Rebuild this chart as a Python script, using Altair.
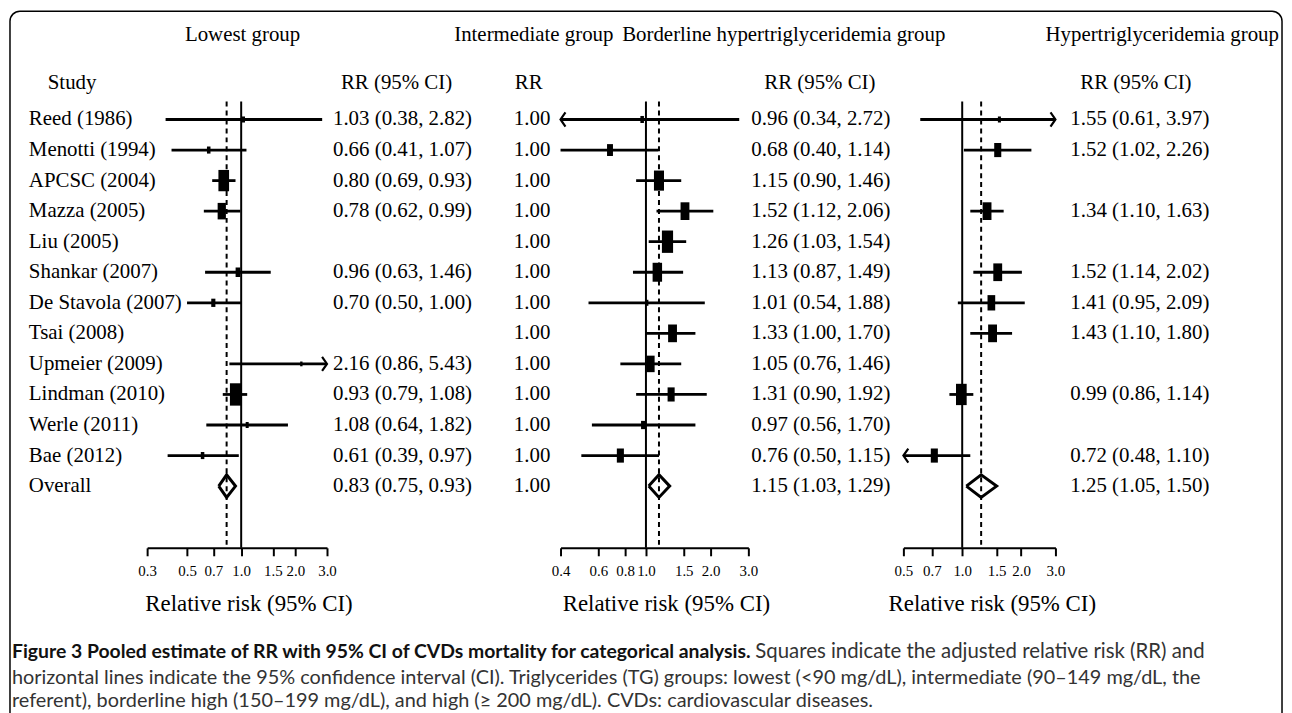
import altair as alt
import pandas as pd

# ---------------- data ----------------
studies = ["Reed (1986)", "Menotti (1994)", "APCSC (2004)", "Mazza (2005)", "Liu (2005)",
           "Shankar (2007)", "De Stavola (2007)", "Tsai (2008)", "Upmeier (2009)",
           "Lindman (2010)", "Werle (2011)", "Bae (2012)", "Overall"]

low_rr = [1.03, 0.66, 0.80, 0.78, None, 0.96, 0.70, None, 2.16, 0.93, 1.08, 0.61]
low_lo = [0.38, 0.41, 0.69, 0.62, None, 0.63, 0.50, None, 0.86, 0.79, 0.64, 0.39]
low_hi = [2.82, 1.07, 0.93, 0.99, None, 1.46, 1.00, None, 5.43, 1.08, 1.82, 0.97]
low_w = [8, 11, 100, 60, None, 20, 15, None, 5, 110, 8, 11]
low_pool = [0.83, 0.75, 0.93]

inter_rr = [1.00] * 13

bord_rr = [0.96, 0.68, 1.15, 1.52, 1.26, 1.13, 1.01, 1.33, 1.05, 1.31, 0.97, 0.76]
bord_lo = [0.34, 0.40, 0.90, 1.12, 1.03, 0.87, 0.54, 1.00, 0.76, 0.90, 0.56, 0.50]
bord_hi = [2.72, 1.14, 1.46, 2.06, 1.54, 1.49, 1.88, 1.70, 1.46, 1.92, 1.70, 1.15]
bord_w = [11, 31, 89, 69, 110, 79, 8, 69, 60, 44, 15, 44]
bord_pool = [1.15, 1.03, 1.29]

hyp_rr = [1.55, 1.52, None, 1.34, None, 1.52, 1.41, 1.43, None, 0.99, None, 0.72]
hyp_lo = [0.61, 1.02, None, 1.10, None, 1.14, 0.95, 1.10, None, 0.86, None, 0.48]
hyp_hi = [3.97, 2.26, None, 1.63, None, 2.02, 2.09, 1.80, None, 1.14, None, 1.10]
hyp_w = [8, 44, None, 69, None, 69, 52, 69, None, 100, None, 44]
hyp_pool = [1.25, 1.05, 1.50]

low_ticks = [0.3, 0.5, 0.7, 1.0, 1.5, 2.0, 3.0]
bord_ticks = [0.4, 0.6, 0.8, 1.0, 1.5, 2.0, 3.0]
hyp_ticks = [0.5, 0.7, 1.0, 1.5, 2.0, 3.0]

caption_bold = "Figure 3 Pooled estimate of RR with 95% CI of CVDs mortality for categorical analysis."
caption_l1 = "Squares indicate the adjusted relative risk (RR) and"
caption_l2 = ("horizontal lines indicate the 95% confidence interval (CI). Triglycerides (TG) groups: "
              "lowest (<90 mg/dL), intermediate (90\u2013149 mg/dL, the")
caption_l3 = "referent), borderline high (150\u2013199 mg/dL), and high (\u2265 200 mg/dL). CVDs: cardiovascular diseases."

# ---------------- styling ----------------
SERIF = "Liberation Serif"
FS = 21
YS = alt.Scale(domain=[-0.585, 14.02], reverse=True, nice=False, zero=False)
BOX = "M-0.5,-1L0.5,-1L0.5,1L-0.5,1Z"
RARROW = "M-0.7,-1L0,0L-0.7,1"
LARROW = "M0.7,-1L0,0L0.7,1"
OVERALL_ROW = 12
DIAMOND_H = 0.37


def fmt(r, l, h):
    return f"{r:.2f} ({l:.2f}, {h:.2f})"


def text_at(label, x, y, size=FS, font=SERIF, weight="normal", color="black", align="left"):
    return alt.Chart(pd.DataFrame({"t": [label]})).mark_text(
        align=align, baseline="middle", font=font, fontSize=size, fontWeight=weight, color=color
    ).encode(x=alt.value(x), y=alt.value(y), text="t:N")


def rr_column(rr, lo, hi, pool, x):
    labels, rows = [], []
    for i in range(12):
        if rr[i] is not None:
            labels.append(fmt(rr[i], lo[i], hi[i]))
            rows.append(i)
    labels.append(fmt(*pool))
    rows.append(OVERALL_ROW)
    df = pd.DataFrame({"row": rows, "label": labels})
    return alt.Chart(df).mark_text(align="left", baseline="middle", font=SERIF, fontSize=FS,
                                   color="black").encode(
        x=alt.value(x), y=alt.Y("row:Q", scale=YS, axis=None), text="label:N")


def panel(rr, lo, hi, w, pool, ticks, rng, title_x):
    dmin, dmax = ticks[0], ticks[-1]
    df = pd.DataFrame({"row": list(range(12)), "rr": rr, "lo": lo, "hi": hi, "w": w}).dropna()
    df["lo_c"] = df["lo"].clip(lower=dmin)
    df["hi_c"] = df["hi"].clip(upper=dmax)

    def xs():
        return alt.Scale(type="log", domain=[dmin, dmax], range=rng, nice=False, zero=False)

    axis = alt.Axis(values=ticks, format=".1f", orient="bottom", grid=False,
                    domainColor="black", domainWidth=2, tickColor="black", tickWidth=2, tickSize=8,
                    labelFont=SERIF, labelFontSize=15, labelColor="black", labelPadding=8,
                    labelOverlap=False, labelFlush=False,
                    title="Relative risk (95% CI)", titleFont=SERIF, titleFontSize=23,
                    titleFontWeight="normal", titleColor="black", titlePadding=14, titleX=title_x)
    base = alt.Chart(df)
    ci = base.mark_rule(color="black", strokeWidth=2.8).encode(
        x=alt.X("lo_c:Q", scale=xs(), axis=axis), x2="hi_c:Q",
        y=alt.Y("row:Q", scale=YS, axis=None))
    box = base.mark_point(shape=BOX, filled=True, color="black", opacity=1).encode(
        x=alt.X("rr:Q", scale=xs(), axis=None), y=alt.Y("row:Q", scale=YS, axis=None),
        size=alt.Size("w:Q", scale=alt.Scale(domain=[0, 100], range=[0, 460]), legend=None))
    out = [ci, box]
    rdf = df[df["hi"] > dmax]
    if len(rdf):
        out.append(alt.Chart(rdf).mark_point(
            shape=RARROW, filled=False, color="black", strokeWidth=2.2, size=200, opacity=1).encode(
            x=alt.X("hi_c:Q", scale=xs(), axis=None), y=alt.Y("row:Q", scale=YS, axis=None)))
    ldf = df[df["lo"] < dmin]
    if len(ldf):
        out.append(alt.Chart(ldf).mark_point(
            shape=LARROW, filled=False, color="black", strokeWidth=2.2, size=200, opacity=1).encode(
            x=alt.X("lo_c:Q", scale=xs(), axis=None), y=alt.Y("row:Q", scale=YS, axis=None)))
    out.append(alt.Chart(pd.DataFrame({"v": [1.0]})).mark_rule(color="black", strokeWidth=2).encode(
        x=alt.X("v:Q", scale=xs(), axis=None)))
    out.append(alt.Chart(pd.DataFrame({"v": [pool[0]]})).mark_rule(
        color="black", strokeWidth=2, strokeDash=[5, 4]).encode(x=alt.X("v:Q", scale=xs(), axis=None)))
    est, plo, phi = pool
    dia = pd.DataFrame({
        "x": [plo, est, phi, est, plo],
        "row": [OVERALL_ROW, OVERALL_ROW - DIAMOND_H, OVERALL_ROW, OVERALL_ROW + DIAMOND_H, OVERALL_ROW],
        "o": [0, 1, 2, 3, 4]})
    out.append(alt.Chart(dia).mark_line(color="black", strokeWidth=3, strokeJoin="miter").encode(
        x=alt.X("x:Q", scale=xs(), axis=None), y=alt.Y("row:Q", scale=YS, axis=None), order="o:Q"))
    return out


# chart x = reference x - 8 ; view y = reference y - 100
p1 = panel(low_rr, low_lo, low_hi, low_w, low_pool, low_ticks, [140, 321], 242)
p2 = panel(bord_rr, bord_lo, bord_hi, bord_w, bord_pool, bord_ticks, [556, 745], 662)
p3 = panel(hyp_rr, hyp_lo, hyp_hi, hyp_w, hyp_pool, hyp_ticks, [901, 1054], 990)

study_df = pd.DataFrame({"row": list(range(13)), "study": studies})
study_col = alt.Chart(study_df).mark_text(align="left", baseline="middle", font=SERIF, fontSize=FS,
                                          color="black").encode(
    x=alt.value(21), y=alt.Y("row:Q", scale=YS, axis=None), text="study:N")

inter_df = pd.DataFrame({"row": list(range(13)), "label": [f"{v:.2f}" for v in inter_rr]})
inter_col = alt.Chart(inter_df).mark_text(align="left", baseline="middle", font=SERIF, fontSize=FS,
                                          color="black").encode(
    x=alt.value(509), y=alt.Y("row:Q", scale=YS, axis=None), text="label:N")

frame = alt.Chart(pd.DataFrame({"a": [0]})).mark_rect(
    filled=False, stroke="black", strokeWidth=1.5, cornerRadius=10).encode(
    x=alt.value(2), x2=alt.value(1282), y=alt.value(-91), y2=alt.value(640))

CAP_Y1, CAP_Y2, CAP_Y3 = 554, 580, 603
texts = [
    text_at("Lowest group", 178, -67),
    text_at("Intermediate group", 449, -67),
    text_at("Borderline hypertriglyceridemia group", 618, -67),
    text_at("Hypertriglyceridemia group", 1044, -67),
    text_at("Study", 40, -19),
    text_at("RR (95% CI)", 335, -19),
    text_at("RR", 510, -19),
    text_at("RR (95% CI)", 761, -19),
    text_at("RR (95% CI)", 1079, -19),
    text_at(caption_bold, 4, CAP_Y1, size=19.5, font="Lato", weight="bold", color="#111111"),
    text_at(caption_l1, 752, CAP_Y1, size=20.5, font="Lato", color="#333333"),
    text_at(caption_l2, 4, CAP_Y2, size=20, font="Lato", color="#333333"),
    text_at(caption_l3, 4, CAP_Y3, size=20, font="Lato", color="#333333"),
]

chart = alt.layer(
    frame, study_col, rr_column(low_rr, low_lo, low_hi, low_pool, 327), inter_col,
    rr_column(bord_rr, bord_lo, bord_hi, bord_pool, 748),
    rr_column(hyp_rr, hyp_lo, hyp_hi, hyp_pool, 1069),
    *p1, *p2, *p3, *texts
).resolve_scale(x="independent").resolve_axis(x="independent").properties(
    width=1276, height=449,
    autosize=alt.AutoSizeParams(type="none"),
    padding={"left": 0, "top": 92, "right": 8, "bottom": 164},
    background="white",
).configure_view(stroke=None)

chart.save("out.html", embed_options={"renderer": "svg", "actions": False})
